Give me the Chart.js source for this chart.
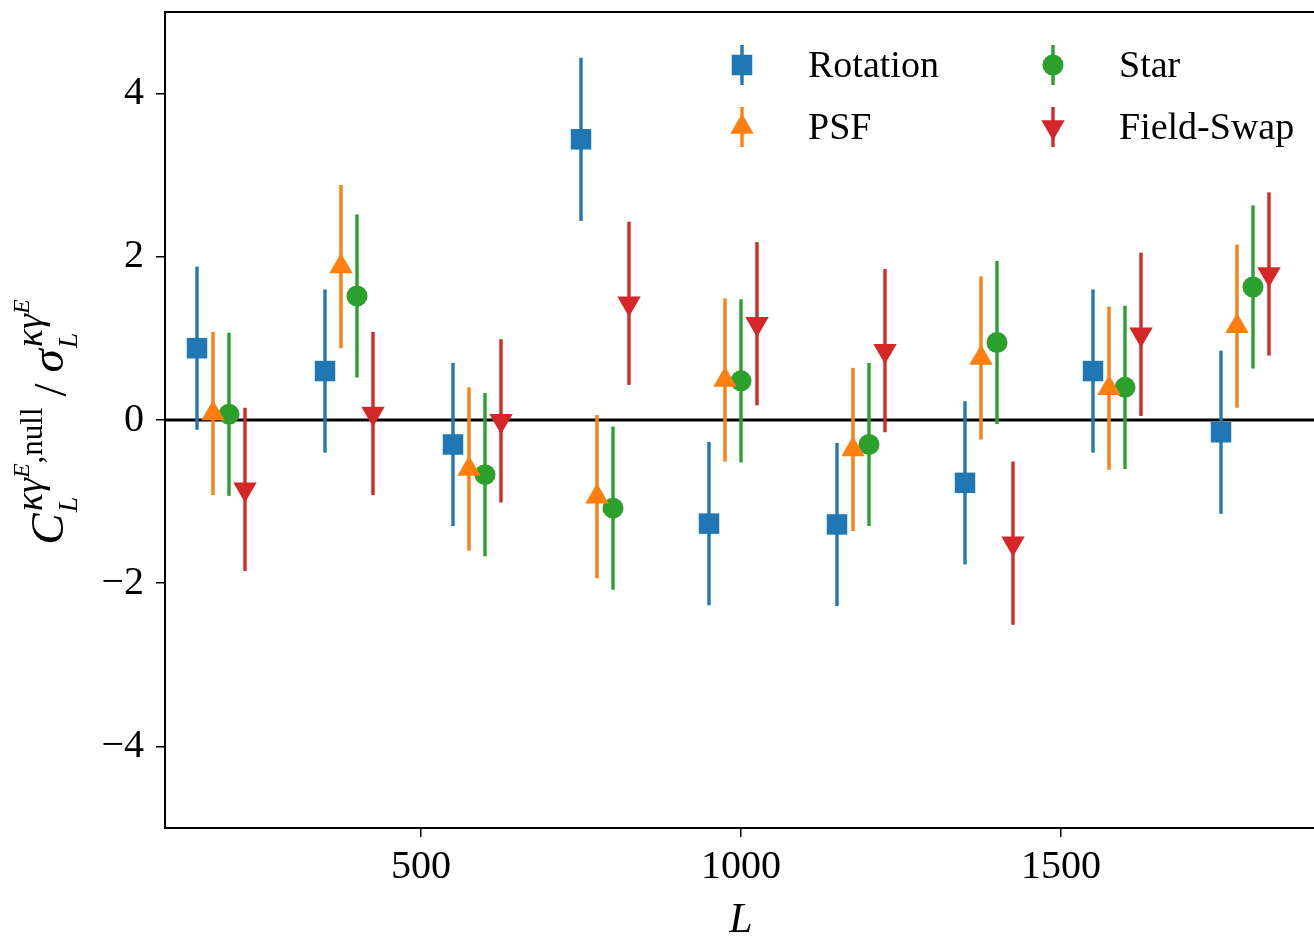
<!DOCTYPE html>
<html>
<head>
<meta charset="utf-8">
<title>Null tests</title>
<script src="https://cdn.jsdelivr.net/npm/chart.js@4/dist/chart.umd.min.js"></script>
<style>
  html, body { margin: 0; padding: 0; background: #fff; overflow: hidden; }
  #nullChart { display: block; }
</style>
</head>
<body>
<canvas id="nullChart" width="1320" height="936"></canvas>
<script>
// multipole bin centres for each test (shifted so the bars do not overlap)
const lRotation = [150, 350, 550, 750, 950, 1150, 1350, 1550, 1750];
const lPsf = [175, 375, 575, 775, 975, 1175, 1375, 1575, 1775];
const lStar = [200, 400, 600, 800, 1000, 1200, 1400, 1600, 1800];
const lFieldSwap = [225, 425, 625, 825, 1025, 1225, 1425, 1625, 1825];

// null spectrum divided by its error
const rotationVals = [0.88, 0.60, -0.30, 3.44, -1.27, -1.28, -0.77, 0.60, -0.15];
const psfVals = [0.08, 1.88, -0.60, -0.94, 0.49, -0.36, 0.76, 0.39, 1.15];
const starVals = [0.07, 1.52, -0.67, -1.08, 0.48, -0.30, 0.95, 0.40, 1.63];
const fieldSwapVals = [-0.85, 0.08, -0.01, 1.43, 1.18, 0.85, -1.51, 1.05, 1.79];

// normalised errors are unity by construction
const rotationErr = [1, 1, 1, 1, 1, 1, 1, 1, 1];
const psfErr = [1, 1, 1, 1, 1, 1, 1, 1, 1];
const starErr = [1, 1, 1, 1, 1, 1, 1, 1, 1];
const fieldSwapErr = [1, 1, 1, 1, 1, 1, 1, 1, 1];

const xTicks = [500, 1000, 1500];
const yTicks = [-4, -2, 0, 2, 4];

const SERIF = '"Liberation Serif", "DejaVu Serif", serif';

function points(ls, vals, errs) {
  return ls.map((l, i) => ({ x: l, y: vals[i], err: errs[i] }));
}

const datasets = [
  { label: "Rotation", data: points(lRotation, rotationVals, rotationErr),
    color: "#1f77b4", pointStyle: "rect", pointRadius: 14.5, rotation: 0 },
  { label: "PSF", data: points(lPsf, psfVals, psfErr),
    color: "#ff7f0e", pointStyle: "triangle", pointRadius: 13.5, rotation: 0 },
  { label: "Star", data: points(lStar, starVals, starErr),
    color: "#2ca02c", pointStyle: "circle", pointRadius: 10.5, rotation: 0 },
  { label: "Field-Swap", data: points(lFieldSwap, fieldSwapVals, fieldSwapErr),
    color: "#d62728", pointStyle: "triangle", pointRadius: 13.5, rotation: 180 },
].map(d => ({
  label: d.label,
  data: d.data,
  showLine: false,
  pointStyle: d.pointStyle,
  pointRadius: d.pointRadius,
  pointHoverRadius: d.pointRadius,
  pointRotation: d.rotation,
  backgroundColor: d.color,
  borderColor: d.color,
  pointBorderWidth: 0,
}));

function drawMarker(ctx, style, radius, rotation, x, y, color) {
  ctx.fillStyle = color;
  ctx.strokeStyle = color;
  Chart.helpers.drawPoint(ctx, { pointStyle: style, radius: radius, rotation: rotation, borderWidth: 0 }, x, y);
}

// error bars and the zero line go under the markers
const errorBarPlugin = {
  id: "errorBars",
  beforeDatasetsDraw(chart) {
    const { ctx, chartArea, scales } = chart;
    const x = scales.x, y = scales.y;
    ctx.save();
    ctx.beginPath();
    ctx.rect(chartArea.left, chartArea.top, chartArea.right - chartArea.left, chartArea.bottom - chartArea.top);
    ctx.clip();

    const y0 = y.getPixelForValue(0);
    ctx.strokeStyle = "#000";
    ctx.lineWidth = 3;
    ctx.beginPath();
    ctx.moveTo(chartArea.left, y0);
    ctx.lineTo(chartArea.right, y0);
    ctx.stroke();

    ctx.lineWidth = 3.4;
    chart.data.datasets.forEach(ds => {
      ctx.strokeStyle = ds.borderColor;
      ds.data.forEach(p => {
        const px = x.getPixelForValue(p.x);
        ctx.beginPath();
        ctx.moveTo(px, y.getPixelForValue(p.y - p.err));
        ctx.lineTo(px, y.getPixelForValue(p.y + p.err));
        ctx.stroke();
      });
    });
    ctx.restore();
  },
};

// y axis title C_L^{κγ^E,null} / σ_L^{κγ^E}
// each group: base glyph, then subscript and superscript stacked after it
const MAIN = "italic 47px " + SERIF;
const SUB = "italic 28px " + SERIF;
const SUP = "italic 38px " + SERIF;
const SUP2 = "italic 24px " + SERIF;
const SUPR = "31px " + SERIF;
const yTitleGroups = [
  { base: "C", sub: "L", sup: [["κγ", SUP, -21], ["E", SUP2, -34], [",null", SUPR, -21]] },
  { base: "/", baseFont: "47px " + SERIF, gap: 11 },
  { base: "σ", sub: "L", sup: [["κγ", SUP, -21], ["E", SUP2, -34]] },
];

function layoutTitle(ctx, draw) {
  let x = 0;
  yTitleGroups.forEach(g => {
    x += g.gap || 0;
    ctx.font = g.baseFont || MAIN;
    if (draw) ctx.fillText(g.base, x, g.baseFont ? 3 : 0);
    x += ctx.measureText(g.base).width + (g.gap || 0);
    let end = x;
    if (g.sub) {
      ctx.font = SUB;
      if (draw) ctx.fillText(g.sub, x + 1, 14);
      end = Math.max(end, x + 1 + ctx.measureText(g.sub).width);
    }
    if (g.sup) {
      let sx = x + 2;
      g.sup.forEach(([t, f, dy]) => {
        ctx.font = f;
        if (draw) ctx.fillText(t, sx, dy);
        sx += ctx.measureText(t).width;
      });
      end = Math.max(end, sx);
    }
    x = end;
  });
  return x;
}

const decorPlugin = {
  id: "decor",
  afterDraw(chart) {
    const { ctx, chartArea } = chart;
    ctx.save();

    // axes frame
    ctx.strokeStyle = "#000";
    ctx.lineWidth = 2;
    ctx.strokeRect(chartArea.left, chartArea.top, chartArea.right - chartArea.left, chartArea.bottom - chartArea.top);

    // legend, two columns
    const legendPos = [[742, 65], [742, 127], [1053, 65], [1053, 127]];
    ctx.textAlign = "left";
    ctx.textBaseline = "alphabetic";
    chart.data.datasets.forEach((ds, k) => {
      const [lx, ly] = legendPos[k];
      ctx.strokeStyle = ds.borderColor;
      ctx.lineWidth = 3.4;
      ctx.beginPath();
      ctx.moveTo(lx, ly - 20);
      ctx.lineTo(lx, ly + 20);
      ctx.stroke();
      drawMarker(ctx, ds.pointStyle, ds.pointRadius, ds.pointRotation, lx, ly, ds.backgroundColor);
      ctx.fillStyle = "#000";
      ctx.font = "38px " + SERIF;
      ctx.fillText(ds.label, lx + 66, ly + 12);
    });

    // x axis title
    ctx.fillStyle = "#000";
    ctx.textAlign = "center";
    ctx.font = "italic 42px " + SERIF;
    ctx.fillText("L", chart.scales.x.getPixelForValue(1000), 932);

    // y axis title, rotated and centred on the axis
    ctx.textAlign = "left";
    const total = layoutTitle(ctx, false);
    ctx.translate(63, 422);
    ctx.rotate(-Math.PI / 2);
    ctx.translate(-total / 2, 0);
    layoutTitle(ctx, true);
    ctx.restore();
  },
};

const tickFont = { family: SERIF, size: 40 };

new Chart(document.getElementById("nullChart"), {
  type: "scatter",
  data: { datasets: datasets },
  options: {
    responsive: false,
    animation: false,
    events: [],
    layout: { autoPadding: false, padding: { top: 12, right: 3, left: 0, bottom: 0 } },
    plugins: {
      legend: { display: false },
      tooltip: { enabled: false },
    },
    scales: {
      x: {
        type: "linear",
        min: 100,
        max: 1900,
        afterFit(scale) {
          scale.height = 108;
          scale.paddingLeft = 0;
          scale.paddingRight = 0;
        },
        afterBuildTicks(scale) { scale.ticks = xTicks.map(v => ({ value: v })); },
        grid: { drawOnChartArea: false, drawTicks: true, tickLength: 9, color: "#000", lineWidth: 1.5 },
        border: { display: false },
        ticks: { color: "#000", font: tickFont, padding: 6, maxRotation: 0, callback: v => String(v) },
      },
      y: {
        type: "linear",
        min: -5,
        max: 5,
        afterFit(scale) {
          scale.width = 165;
          scale.paddingTop = 0;
          scale.paddingBottom = 0;
        },
        afterBuildTicks(scale) { scale.ticks = yTicks.map(v => ({ value: v })); },
        grid: { drawOnChartArea: false, drawTicks: true, tickLength: 9, color: "#000", lineWidth: 1.5 },
        border: { display: false },
        ticks: {
          color: "#000",
          font: tickFont,
          padding: 12,
          callback: v => (v < 0 ? "\u2212" + Math.abs(v) : String(v)),
        },
      },
    },
  },
  plugins: [errorBarPlugin, decorPlugin],
});
</script>
</body>
</html>
